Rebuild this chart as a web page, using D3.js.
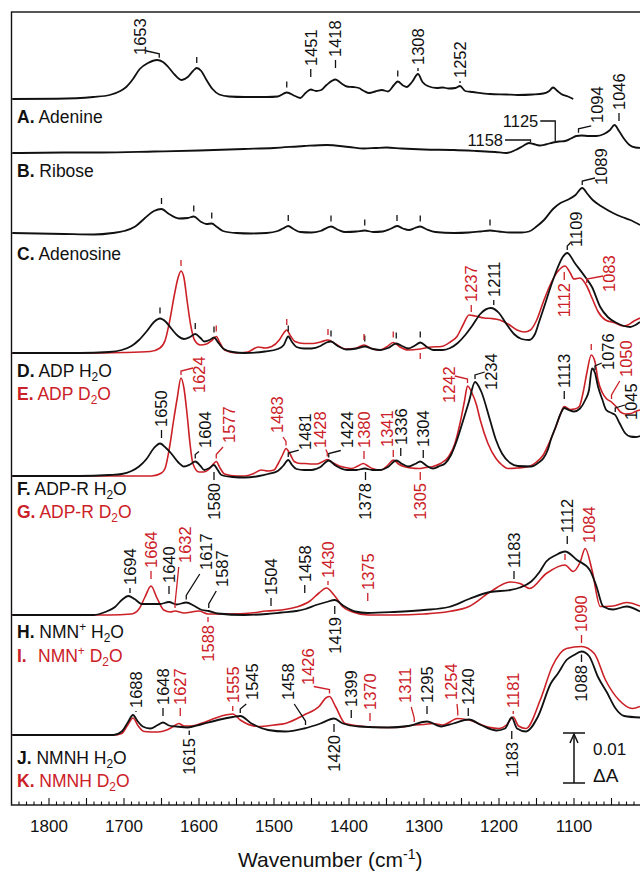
<!DOCTYPE html>
<html><head><meta charset="utf-8">
<script src="https://cdn.jsdelivr.net/npm/d3@7/dist/d3.min.js"></script>
<style>
body{margin:0;background:#fff}
svg{display:block}
text{font-family:"Liberation Sans",Arial,Helvetica,sans-serif}
</style>
</head><body>
<svg id="chart" width="640" height="873"></svg>
<script>
// ---------------- DATA (wavenumber cm-1, absorbance in mΔA) ----------------
const xTickLabels = [1800,1700,1600,1500,1400,1300,1200,1100];

const adenine = [[1849,0],[1790,0.05],[1741,0.4],[1719,0.8],[1705,1.6],[1697,2.4],[1688,4.0],[1679,6.0],[1668,7.2],[1656,7.8],[1648,7.4],[1641,6.4],[1632,4.8],[1623,3.8],[1615,4.4],[1608,5.6],[1603,6.2],[1597,5.6],[1590,3.8],[1582,2.0],[1573,0.9],[1560,0.5],[1539,0.4],[1510,0.4],[1495,0.5],[1483,1.3],[1472,0.6],[1465,0.2],[1458,1.2],[1451,1.9],[1444,1.6],[1437,1.8],[1430,2.8],[1418,3.9],[1410,3.1],[1403,2.5],[1395,2.4],[1387,2.2],[1380,1.6],[1373,1.2],[1365,1.5],[1356,1.8],[1348,1.5],[1340,2.8],[1335,3.5],[1328,2.7],[1323,2.4],[1316,3.4],[1308,5.0],[1302,3.4],[1295,2.6],[1283,2.2],[1275,2.3],[1267,2.1],[1258,2.2],[1252,2.6],[1245,1.6],[1235,1.4],[1212,1.0],[1190,0.9],[1175,0.8],[1155,0.9],[1141,1.1],[1133,1.6],[1128,2.3],[1122,1.6],[1117,1.0],[1108,0.5],[1101,0]];

const ribose = [[1849,0],[1780,0.1],[1730,0.1],[1660,0.3],[1600,0.5],[1540,0.8],[1500,1.0],[1460,1.4],[1430,1.6],[1400,1.2],[1380,0.9],[1365,1.0],[1350,1.1],[1330,0.9],[1300,0.7],[1260,0.6],[1230,0.4],[1205,0.2],[1190,0.0],[1178,0.6],[1168,1.4],[1160,2.0],[1154,1.8],[1146,1.5],[1138,1.7],[1128,2.1],[1120,2.3],[1112,2.4],[1104,2.9],[1097,3.4],[1090,3.5],[1080,3.4],[1070,3.4],[1060,3.8],[1052,4.6],[1046,5.6],[1040,4.4],[1034,3.0],[1026,1.6],[1018,1.1],[1010,1.0]];

const adenosine = [[1849,0],[1780,-0.2],[1740,-0.3],[1715,0],[1700,0.4],[1685,1.3],[1672,3.0],[1660,4.4],[1650,4.8],[1640,3.8],[1627,2.9],[1615,3.0],[1607,3.3],[1598,2.3],[1590,1.8],[1583,1.9],[1576,1.2],[1568,0.4],[1550,0],[1530,-0.1],[1510,0],[1495,0.4],[1488,0.9],[1481,1.4],[1474,0.8],[1465,0.2],[1450,0.1],[1438,0.4],[1424,1.3],[1414,0.6],[1405,0.2],[1390,0.3],[1379,0.5],[1368,0.2],[1355,0.3],[1345,0.8],[1336,1.4],[1328,0.9],[1320,0.6],[1312,1.0],[1305,1.3],[1296,0.7],[1285,0.2],[1260,0.0],[1240,0.1],[1225,0.3],[1212,0.5],[1200,0.3],[1185,0.1],[1170,0.1],[1160,0.3],[1150,1.3],[1140,2.6],[1128,4.8],[1118,6.0],[1109,6.6],[1098,7.6],[1089,9.0],[1082,7.8],[1075,6.6],[1062,5.2],[1048,4.0],[1036,3.2],[1025,2.6],[1012,1.6]];

const adpH2O = [[1849,0],[1760,0],[1720,0.2],[1703,0.6],[1690,1.4],[1680,2.6],[1670,4.3],[1660,6.2],[1652,6.9],[1644,6.2],[1637,4.9],[1628,3.4],[1620,2.8],[1612,3.2],[1605,3.8],[1598,3.0],[1593,2.3],[1586,2.6],[1580,3.1],[1574,2.0],[1567,0.8],[1555,0.2],[1539,0],[1512,0.3],[1495,0.8],[1487,1.6],[1481,3.3],[1476,2.2],[1470,1.2],[1460,0.9],[1450,0.9],[1438,1.4],[1430,2.1],[1424,2.3],[1415,1.4],[1403,0.7],[1390,0.9],[1379,1.3],[1368,0.8],[1358,0.6],[1348,1.0],[1337,1.9],[1328,1.3],[1321,0.9],[1312,1.5],[1305,2.1],[1296,1.2],[1288,0.6],[1275,0.6],[1265,1.0],[1255,2.0],[1245,3.6],[1235,5.6],[1225,7.8],[1211,9.0],[1200,8.0],[1191,6.0],[1180,3.8],[1170,2.8],[1160,2.6],[1152,3.8],[1147,6.0],[1139,9.6],[1131,13.3],[1122,17.0],[1115,19.2],[1109,20.0],[1099,18.0],[1085,15.2],[1076,13.2],[1065,9.2],[1055,7.2],[1043,6.0],[1025,5.2],[1018,5.6],[1012,6.2]];

const adpD2O = [[1849,0],[1760,0],[1700,0.1],[1665,0.3],[1652,1.0],[1645,2.6],[1639,6.5],[1633,11.5],[1628,15.0],[1624,16.4],[1620,15.0],[1616,10.6],[1611,5.5],[1606,2.6],[1598,1.6],[1590,1.8],[1583,2.5],[1577,3.3],[1572,2.0],[1566,0.6],[1550,0],[1535,0.2],[1521,1.2],[1512,1.0],[1503,1.3],[1493,2.6],[1487,4.0],[1483,4.6],[1478,3.4],[1472,2.3],[1460,1.9],[1448,1.9],[1438,2.2],[1428,2.6],[1418,1.8],[1405,0.8],[1392,0.9],[1380,1.6],[1370,0.9],[1359,0.6],[1350,1.2],[1341,2.1],[1332,1.2],[1321,0.6],[1305,0.8],[1290,1.2],[1277,1.3],[1265,2.2],[1256,3.3],[1248,5.6],[1240,7.6],[1232,7.4],[1220,7.0],[1210,6.9],[1199,6.6],[1188,5.8],[1176,4.6],[1166,4.2],[1158,4.6],[1150,6.5],[1140,10.6],[1130,14.2],[1120,16.6],[1112,17.4],[1105,16.0],[1100,14.8],[1092,15.0],[1083,13.4],[1076,11.0],[1068,8.3],[1058,6.6],[1045,6.0],[1035,5.4],[1028,5.6],[1020,6.4],[1012,7.0]];

const adprH2O = [[1849,0],[1760,0],[1720,0.2],[1703,0.4],[1690,1.0],[1680,1.9],[1670,3.4],[1660,5.6],[1652,6.5],[1644,5.6],[1637,4.5],[1628,2.8],[1620,1.9],[1612,2.3],[1605,2.9],[1598,2.0],[1593,1.2],[1586,1.6],[1580,2.2],[1575,1.2],[1570,0.2],[1555,-0.2],[1539,-0.3],[1520,0],[1508,0.4],[1495,1.0],[1488,2.0],[1481,3.2],[1476,2.2],[1470,1.4],[1460,1.2],[1450,1.2],[1438,1.8],[1427,3.1],[1418,2.1],[1403,1.2],[1390,1.2],[1379,1.5],[1369,1.2],[1359,1.2],[1348,1.8],[1337,3.1],[1329,2.4],[1321,1.9],[1312,2.4],[1305,2.9],[1296,2.0],[1288,1.5],[1279,2.0],[1272,2.5],[1264,4.2],[1256,7.2],[1248,11.0],[1240,14.9],[1232,18.8],[1224,17.0],[1212,11.2],[1204,7.2],[1196,4.5],[1185,2.6],[1175,2.0],[1157,1.9],[1148,2.6],[1141,3.5],[1135,5.2],[1131,7.2],[1124,10.0],[1118,12.4],[1113,13.6],[1107,13.2],[1100,12.9],[1092,13.5],[1085,15.2],[1080,17.2],[1076,21.5],[1072,20.6],[1068,17.9],[1062,15.2],[1057,13.2],[1050,12.6],[1045,12.2],[1039,10.5],[1032,8.6],[1025,7.9],[1018,7.8],[1012,8.0]];

const adprD2O = [[1849,0],[1760,0],[1700,0],[1663,0],[1650,0.6],[1645,1.6],[1639,6.0],[1634,11.0],[1629,15.6],[1624,19.6],[1620,17.5],[1616,12.5],[1612,6.5],[1608,2.4],[1600,0.8],[1594,0.8],[1587,1.3],[1582,2.2],[1577,2.9],[1572,1.6],[1566,0.4],[1550,0],[1539,0],[1527,0.5],[1517,1.2],[1508,1.0],[1500,1.2],[1494,2.6],[1488,4.4],[1484,5.5],[1479,4.5],[1473,2.9],[1465,2.5],[1459,2.5],[1450,2.4],[1443,2.4],[1436,2.8],[1429,3.3],[1421,2.6],[1413,2.0],[1405,1.7],[1397,1.5],[1388,2.0],[1381,2.5],[1375,2.0],[1369,1.5],[1360,1.2],[1355,1.3],[1348,2.2],[1341,3.2],[1334,2.4],[1327,1.9],[1317,1.6],[1307,1.5],[1298,1.7],[1288,1.9],[1278,2.5],[1267,3.9],[1259,6.4],[1251,11.2],[1246,15.0],[1242,18.0],[1236,16.6],[1230,14.2],[1225,11.2],[1215,6.6],[1204,3.5],[1196,2.2],[1188,1.5],[1175,1.6],[1160,1.9],[1150,2.8],[1141,4.2],[1132,7.0],[1124,9.9],[1118,12.4],[1113,13.9],[1108,13.5],[1105,13.3],[1099,13.4],[1093,13.9],[1088,16.6],[1083,20.5],[1077,24.2],[1072,22.8],[1068,19.2],[1062,16.6],[1057,15.5],[1050,14.8],[1044,13.9],[1038,12.8],[1031,12.4],[1024,12.5],[1018,12.9],[1012,13.2]];

const nmnH2O = [[1849,0],[1740,0],[1725,0.6],[1712,1.6],[1703,3.0],[1694,3.8],[1686,3.2],[1676,2.2],[1665,2.2],[1652,2.2],[1640,2.6],[1630,2.1],[1617,2.5],[1606,1.8],[1596,1.0],[1587,0.8],[1575,0.3],[1540,0],[1510,0.2],[1490,0.5],[1470,0.8],[1458,1.2],[1444,2.0],[1430,2.6],[1419,3.0],[1407,1.8],[1392,0.7],[1375,0.4],[1340,0.6],[1300,1.0],[1267,1.6],[1240,3.2],[1212,4.6],[1185,5.0],[1172,5.5],[1157,6.7],[1146,8.6],[1137,10.7],[1124,12.0],[1112,12.7],[1096,11.0],[1079,9.0],[1070,5.7],[1061,1.7],[1048,1.1],[1030,1.7],[1012,0.7]];

const nmnD2O = [[1849,0],[1720,0],[1690,0.2],[1680,1.2],[1672,3.6],[1664,5.8],[1656,3.4],[1647,1.0],[1638,0.6],[1632,0.8],[1620,0.4],[1600,0.8],[1588,0.2],[1560,0.2],[1530,0.4],[1510,0.8],[1490,1.0],[1470,1.6],[1452,2.8],[1440,4.4],[1430,5.4],[1420,4.0],[1408,1.6],[1395,0.6],[1375,0],[1340,0],[1300,0.2],[1267,0.7],[1240,1.7],[1212,4.6],[1185,6.6],[1172,6.3],[1159,5.3],[1137,8.3],[1112,10.0],[1101,8.7],[1092,10.5],[1085,13.3],[1076,9.0],[1065,1.7],[1048,1.8],[1030,2.5],[1012,1.8]];

const nmnhH2O = [[1849,0],[1714,0],[1703,0.7],[1695,2.5],[1688,4.0],[1682,2.8],[1675,1.7],[1665,1.3],[1655,2.0],[1648,2.5],[1640,1.9],[1630,1.7],[1615,1.5],[1600,2.0],[1572,3.1],[1555,3.6],[1545,3.8],[1530,2.3],[1508,1.0],[1485,0.7],[1460,1.3],[1438,2.3],[1420,3.3],[1408,2.3],[1387,1.7],[1348,1.5],[1321,1.8],[1296,2.7],[1277,1.7],[1261,2.3],[1240,3.1],[1224,2.0],[1203,0.9],[1192,1.3],[1183,3.5],[1176,1.3],[1164,0.7],[1148,3.7],[1131,10.3],[1121,12.4],[1110,15.0],[1100,16.0],[1090,16.7],[1080,15.8],[1068,11.6],[1056,8.5],[1045,5.4],[1033,3.8],[1012,3.5]];

const nmnhD2O = [[1849,0],[1714,0],[1703,0.3],[1695,2.0],[1688,3.4],[1681,1.8],[1673,0.7],[1655,0.6],[1643,1.0],[1633,1.8],[1627,2.3],[1620,1.8],[1611,1.8],[1590,2.7],[1570,3.8],[1555,4.2],[1545,3.0],[1520,1.7],[1500,2.0],[1485,2.3],[1460,4.0],[1440,5.7],[1430,7.5],[1426,7.7],[1418,5.7],[1405,2.3],[1380,1.7],[1370,1.6],[1348,1.5],[1330,1.6],[1313,2.0],[1300,2.1],[1288,2.3],[1275,2.0],[1255,3.3],[1240,3.0],[1215,1.6],[1200,1.3],[1190,2.0],[1181,3.6],[1174,1.8],[1164,1.3],[1145,7.0],[1129,13.7],[1110,17.3],[1090,17.7],[1073,16.3],[1058,11.0],[1040,7.0],[1022,5.3],[1012,5.7]];

// vertical offsets of each panel (mΔA above the axis line)
const panelOffsets = {A:141.2, B:130.4, C:114.4, DE:90.4, FG:65.8, HI:38, JK:14};

// scale bar value (ΔA = 0.01 → 10 mΔA)
const scaleBar = {wn:1100, from:4.4, size:10, label:"0.01"};

// annotations: [series, peak wavenumber, label, kind, label wavenumber, label level (mΔA above panel baseline)]
const annotations = [
 ['A',1653,'1653','a',1679,8.8],['A',1603,'','m'],['A',1483,'','m'],['A',1451,'1451','a',1451,6.6],
 ['A',1418,'1418','a',1418,8.4],['A',1335,'','m'],['A',1308,'1308','a',1308,6.8],['A',1252,'1252','a',1252,4.2],
 ['B',1158,'1158','h',1192,2.6],['B',1125,'1125','h',1145,6.4],['B',1094,'1094','a',1069,6.0],['B',1046,'1046','a',1040,8.6],
 ['C',1650,'','m'],['C',1607,'','m'],['C',1583,'','m'],['C',1481,'','m'],['C',1424,'','m'],['C',1379,'','m'],
 ['C',1336,'','m'],['C',1305,'','m'],['C',1212,'','m'],['C',1089,'1089','a',1064,9.6],
 ['D',1652,'','m'],['D',1605,'','m'],['D',1580,'','m'],['D',1481,'','m'],['D',1424,'','m'],['D',1379,'','m'],
 ['D',1337,'','m'],['D',1305,'','m'],['D',1211,'1211','a',1207,11.2],['D',1109,'1109','a',1097,21.2],
 ['E',1624,'','m'],['E',1577,'','m'],['E',1483,'','m'],['E',1428,'','m'],['E',1380,'','m'],['E',1341,'','m'],['E',1305,'','mb'],
 ['E',1240,'1237','a',1237,10.2],['E',1112,'1112','b',1113,14],['E',1083,'1083','a',1053,12.2],
 ['F',1652,'1650','a',1650,9.8],['F',1605,'1604','a',1592,5.6],['F',1580,'1580','b',1580,-1.4],['F',1481,'1481','a',1459,5.2],
 ['F',1427,'1424','a',1403,5.6],['F',1379,'1378','b',1378,-1.4],['F',1337,'1336','a',1331,6.2],['F',1305,'1304','a',1301,5.8],
 ['F',1232,'1234','a',1211,17.2],['F',1113,'1113','a',1113,17.6],['F',1072,'1076','a',1055,21.2],['F',1045,'1045','a',1024,11.2],
 ['G',1624,'1624','a',1600,16.6],['G',1577,'1577','a',1560,6.6],['G',1484,'1483','a',1496,8.6],['G',1429,'1428','a',1439,5.6],
 ['G',1381,'1380','a',1380,5.6],['G',1341,'1341','a',1349,5.8],['G',1305,'1305','b',1305,-1.4],['G',1242,'1242','a',1267,14.6],
 ['G',1050,'1050','a',1031,19.8],['G',1077,'','m'],
 ['H',1694,'1694','a',1692,6.0],['H',1640,'1640','a',1640,6.4],['H',1617,'1617','a',1591,9.0],['H',1587,'1587','a',1569,5.6],
 ['H',1504,'1504','a',1504,4.0],['H',1458,'1458','a',1459,6.6],['H',1419,'1419','b',1419,-0.4],['H',1183,'1183','a',1180,9.4],
 ['H',1112,'1112','a',1109,16.4],
 ['I',1664,'1664','a',1664,9.4],['I',1632,'1632','a',1619,10.4],['I',1588,'1588','b',1588,-2],['I',1430,'1430','a',1428,7.4],
 ['I',1375,'1375','a',1375,5],['I',1085,'1084','a',1080,14.4],['I',1112,'','m'],
 ['J',1688,'1688','a',1684,5.4],['J',1648,'1648','a',1648,6.0],['J',1615,'1615','b',1613,-0.6],['J',1545,'1545','a',1529,7],
 ['J',1458,'1458','a',1481,7],['J',1420,'1420','b',1420,0],['J',1399,'1399','a',1397,5.6],['J',1296,'1295','a',1296,6.4],
 ['J',1240,'1240','a',1241,6],['J',1183,'1183','b',1183,-1.4],['J',1090,'1088','b',1090,14],
 ['K',1627,'1627','a',1625,6],['K',1555,'1555','a',1555,6.4],['K',1426,'1426','a',1455,10],['K',1370,'1370','a',1372,5],
 ['K',1313,'1311','a',1325,6.4],['K',1255,'1254','a',1264,7],['K',1181,'1181','a',1181,5.4],['K',1090,'1090','a',1090,20.6]
];

// ---------------- RENDER ----------------
const RED = "#cc2027", BLACK = "#111";
const series = [
 {key:'A', data:adenine, off:panelOffsets.A, color:BLACK},
 {key:'B', data:ribose, off:panelOffsets.B, color:BLACK},
 {key:'C', data:adenosine, off:panelOffsets.C, color:BLACK},
 {key:'E', data:adpD2O, off:panelOffsets.DE, color:RED},
 {key:'D', data:adpH2O, off:panelOffsets.DE, color:BLACK},
 {key:'G', data:adprD2O, off:panelOffsets.FG, color:RED},
 {key:'F', data:adprH2O, off:panelOffsets.FG, color:BLACK},
 {key:'I', data:nmnD2O, off:panelOffsets.HI, color:RED},
 {key:'H', data:nmnH2O, off:panelOffsets.HI, color:BLACK},
 {key:'K', data:nmnhD2O, off:panelOffsets.JK, color:RED},
 {key:'J', data:nmnhH2O, off:panelOffsets.JK, color:BLACK}
];
const byKey = {}; series.forEach(s=>byKey[s.key]=s);

const svg = d3.select('#chart');
const xs = d3.scaleLinear().domain([1850,1000]).range([11.5,649]);
const ys = d3.scaleLinear().domain([0,160]).range([805,5]);

svg.append('defs').append('clipPath').attr('id','frameClip')
  .append('rect').attr('x',xs(1850)).attr('y',ys(158.6)).attr('width',xs(1000)-xs(1850)).attr('height',ys(0)-ys(158.6));

// frame
svg.append('rect').attr('x',xs(1850)).attr('y',ys(158.6)).attr('width',xs(1000)-xs(1850)).attr('height',ys(0)-ys(158.6))
  .attr('fill','none').attr('stroke','#111').attr('stroke-width',1.4);

// axis ticks (inward)
const minorTicks = d3.range(1840, 1000, -10);
svg.append('g').selectAll('line').data(minorTicks).join('line')
  .attr('x1',d=>xs(d)).attr('x2',d=>xs(d)).attr('y1',ys(0))
  .attr('y2',d=> ys(0) - (d%50===0 ? 7 : 3.5))
  .attr('stroke','#111').attr('stroke-width',1.1);
svg.append('g').selectAll('text').data(xTickLabels).join('text')
  .attr('x',d=>xs(d)).attr('y',832).attr('text-anchor','middle').attr('font-size',17).attr('fill','#111').text(d=>d);
const title = svg.append('text').attr('x',(xs(1850)+xs(1000))/2).attr('y',867).attr('text-anchor','middle')
  .attr('font-size',21).attr('fill','#111');
title.append('tspan').text('Wavenumber (cm');
title.append('tspan').attr('font-size',14).attr('dy',-8).text('-1');
title.append('tspan').attr('dy',8).text(')');

// spectra
const plot = svg.append('g').attr('clip-path','url(#frameClip)');
series.forEach(s=>{
  const line = d3.line().x(d=>xs(d[0])).y(d=>ys(s.off+d[1])).curve(d3.curveMonotoneX);
  plot.append('path').datum(s.data).attr('d',line).attr('fill','none')
    .attr('stroke',s.color).attr('stroke-width', s.color===RED?1.6:1.8).attr('stroke-linejoin','round');
});

function valAt(data,wn){
  for(let i=0;i<data.length-1;i++){
    const a=data[i], b=data[i+1];
    if(wn<=a[0] && wn>=b[0]){ const t=(a[0]-wn)/(a[0]-b[0]); return a[1]+t*(b[1]-a[1]); }
  }
  return 0;
}

// annotations
const ann = svg.append('g');
const LFS = 16.5;
function rotText(x,y,anchor,str,color){
  ann.append('text').attr('transform',`translate(${x},${y}) rotate(-90)`).attr('text-anchor',anchor)
    .attr('dy','0.36em').attr('font-size',LFS).attr('fill',color).text(str);
}
annotations.forEach(([key,wn,label,kind,lwn,lvl])=>{
  const s = byKey[key]; const c = s.color;
  const x = xs(wn), yc = ys(s.off + valAt(s.data,wn));
  const seg = pts => ann.append('path').attr('d', d3.line()(pts)).attr('fill','none').attr('stroke',c).attr('stroke-width',1.3);
  if(kind==='m'){ seg([[x,yc-5],[x,yc-11]]); return; }
  if(kind==='mb'){ seg([[x,yc+4],[x,yc+10]]); return; }
  const xl = xs(lwn), yl = ys(s.off + lvl);
  if(kind==='a'){
    if(Math.abs(xl-x)<6){ const y2=Math.min(yc-3, yl+11); if(y2>yl+3) seg([[xl,yl+3],[xl,y2]]); }
    else { const sg=Math.sign(xl-x); seg([[x,yc-3],[x,yc-7],[xl-sg*6, Math.min(yc-10, yl+4)]]); }
    rotText(xl,yl,'start',label,c);
  } else if(kind==='b'){
    if(Math.abs(xl-x)<6){ const y2=Math.max(yc+3, yl-11); if(y2<yl-3) seg([[xl,yl-3],[xl,y2]]); }
    else { const sg=Math.sign(xl-x); seg([[x,yc+3],[x,yc+7],[xl-sg*6, Math.max(yc+10, yl-4)]]); }
    rotText(xl,yl,'end',label,c);
  } else if(kind==='h'){
    seg([[xl,yl],[x,yl],[x,yc-1]]);
    ann.append('text').attr('x',xl-2).attr('y',yl).attr('dy','0.36em').attr('text-anchor','end')
      .attr('font-size',LFS).attr('fill',c).text(label);
  }
});

// panel labels
const panelLabels = [
 ['A.','Adenine',123,BLACK],['B.','Ribose',177,BLACK],['C.','Adenosine',260,BLACK],
 ['D.','ADP H_2O',377,BLACK],['E.','ADP D_2O',400,RED],
 ['F.','ADP-R H_2O',495,BLACK],['G.','ADP-R D_2O',518,RED],
 ['H.','NMN^+ H_2O',638,BLACK],['I.','NMN^+ D_2O',662,RED],
 ['J.','NMNH H_2O',764,BLACK],['K.','NMNH D_2O',787,RED]
];
const PFS = 17.5;
panelLabels.forEach(([letter,name,y,color])=>{
  const t = svg.append('text').attr('x',17).attr('y',y).attr('font-size',PFS).attr('fill',color);
  t.append('tspan').attr('font-weight','bold').text(letter);
  const parts = name.split(/(_\d|\^\+)/).filter(p=>p!=='');
  let shift = 0, first = true;
  parts.forEach(p=>{
    const ts = t.append('tspan');
    if(first){ ts.attr('x', letter==='I.'?38:null); }
    if(p[0]==='_'){ ts.attr('dy',4-shift).attr('font-size',PFS*0.68).text(p.slice(1)); shift=4; }
    else if(p[0]==='^'){ ts.attr('dy',-7-shift).attr('font-size',PFS*0.68).text(p.slice(1)); shift=-7; }
    else { ts.attr('dy',-shift).text((first && letter!=='I.'?' ':'')+p); shift=0; }
    first=false;
  });
});

// scale bar
const sbx = xs(scaleBar.wn), sb0 = ys(scaleBar.from), sb1 = ys(scaleBar.from+scaleBar.size);
const sb = svg.append('g').attr('stroke','#111').attr('stroke-width',1.5).attr('fill','none');
sb.append('line').attr('x1',sbx).attr('x2',sbx).attr('y1',sb0).attr('y2',sb1+1);
sb.append('line').attr('x1',sbx-11).attr('x2',sbx+11).attr('y1',sb0).attr('y2',sb0);
sb.append('line').attr('x1',sbx-11).attr('x2',sbx+11).attr('y1',sb1).attr('y2',sb1);
sb.append('path').attr('d',`M${sbx-4},${sb1+10} L${sbx},${sb1+1} L${sbx+4},${sb1+10}`);
svg.append('text').attr('x',sbx+19).attr('y',sb1+22).attr('font-size',17).attr('fill','#111').text(scaleBar.label);
svg.append('text').attr('x',sbx+19).attr('y',sb0-1).attr('font-size',19).attr('fill','#111').text('ΔA');
</script>
</body></html>
